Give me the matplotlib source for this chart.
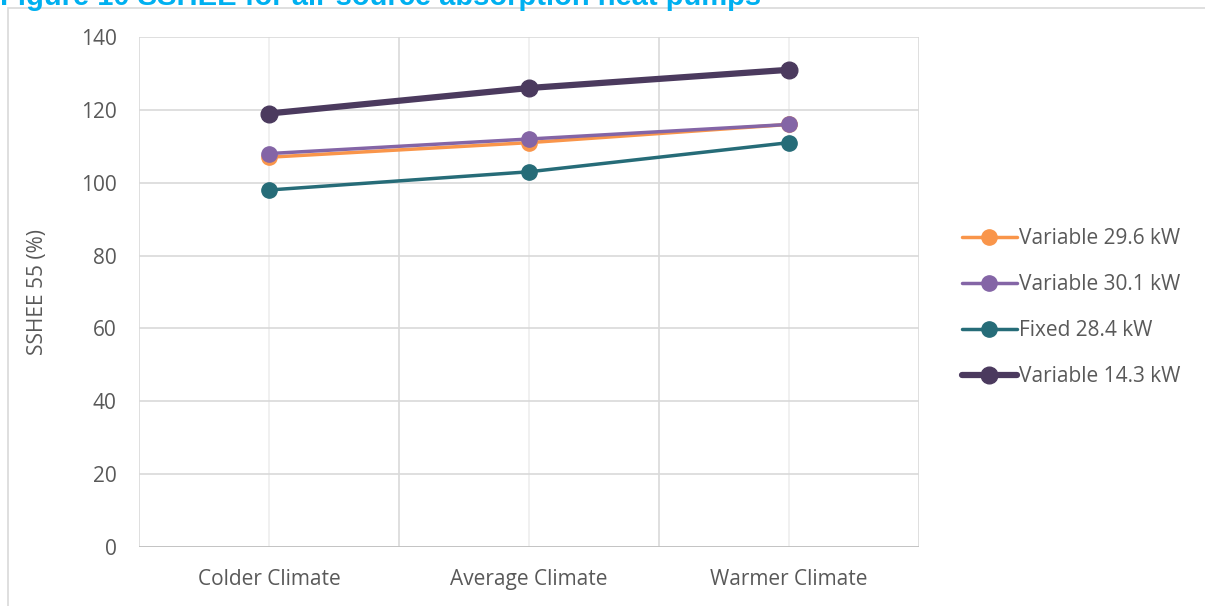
import matplotlib
matplotlib.use("Agg")
import matplotlib.pyplot as plt
from matplotlib.patches import Rectangle

# Chart data
climates = ["Colder Climate", "Average Climate", "Warmer Climate"]
series_names = ["Variable 29.6 kW", "Variable 30.1 kW", "Fixed 28.4 kW", "Variable 14.3 kW"]
var_29_6 = [107, 111, 116]
var_30_1 = [108, 112, 116]
fixed_28_4 = [98, 103, 111]
var_14_3 = [119, 126, 131]
y_ticks = [0, 20, 40, 60, 80, 100, 120, 140]

series_values = [var_29_6, var_30_1, fixed_28_4, var_14_3]
colors = ["#F9954A", "#8465A6", "#266C78", "#4B3A5E"]
widths = [2.5, 2.5, 2.5, 4.5]
msizes = [11, 11, 11, 12]

text_color = "#595959"
grid_color = "#D9D9D9"
plt.rcParams["font.family"] = ["Open Sans", "DejaVu Sans"]

W, H = 1205, 606
fig = plt.figure(figsize=(W / 100, H / 100), dpi=100)

# Outer chart frame
fig.patches.append(Rectangle((8 / W, -0.05), 1.0, 1 - 8 / H + 0.05,
                             transform=fig.transFigure, fill=False,
                             edgecolor=grid_color, linewidth=1.2))

# Caption sitting above the frame
fig.text(0.0, 1 - 5 / H, "Figure 10 SSHEE for air source absorption heat pumps",
         color="#00B0F0", fontsize=21, fontweight="bold",
         family=["Liberation Sans", "DejaVu Sans"], va="baseline", ha="left")

ax = fig.add_axes([139 / W, (H - 547) / H, (919 - 139) / W, (547 - 37) / H])
x = list(range(1, len(climates) + 1))

for name, vals, c, lw, ms in zip(series_names, series_values, colors, widths, msizes):
    ax.plot(x, vals, color=c, linewidth=lw, marker="o", markersize=ms,
            markeredgecolor=c, label=name, zorder=3, solid_capstyle="round")

ax.set_xlim(0.5, len(climates) + 0.5)
ax.set_ylim(0, 140)
ax.set_yticks(y_ticks)
ax.set_xticks(x)
ax.set_xticklabels(climates)

# Major gridlines on category boundaries, lighter ones through category centres
for xb in [0.5, 1.5, 2.5, 3.5]:
    ax.axvline(xb, color=grid_color, linewidth=1.2, zorder=1)
for xc in x:
    ax.axvline(xc, color="#EDEDED", linewidth=1.2, zorder=1)
for yt in y_ticks:
    ax.axhline(yt, color=grid_color, linewidth=1.2, zorder=1)

for s in ax.spines.values():
    s.set_visible(False)
ax.axhline(0, color="#BFBFBF", linewidth=1.2, zorder=2)

ax.tick_params(axis="both", length=0, labelsize=15, labelcolor=text_color)
ax.tick_params(axis="y", pad=16)
ax.tick_params(axis="x", pad=16)
ax.set_ylabel("SSHEE 55 (%)", fontsize=15, color=text_color, labelpad=24)

leg = fig.legend(loc="center left", bbox_to_anchor=(954 / W, 1 - 308 / H),
                 frameon=False, fontsize=15, labelcolor=text_color,
                 handlelength=2.6, handletextpad=0.1, labelspacing=1.2,
                 borderaxespad=0)

fig.savefig("out.png", dpi=100)
